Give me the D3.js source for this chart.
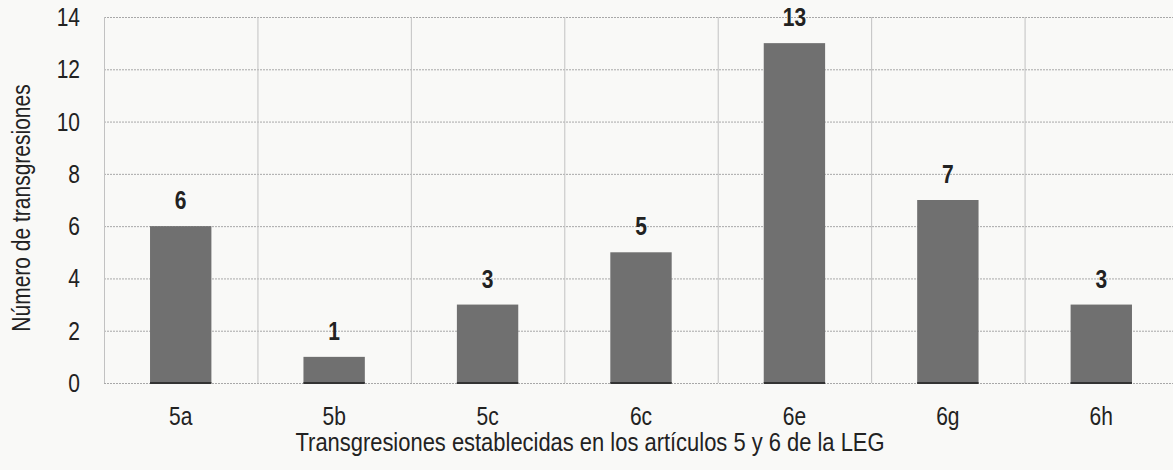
<!DOCTYPE html>
<html>
<head>
<meta charset="utf-8">
<script src="https://cdnjs.cloudflare.com/ajax/libs/d3/7.8.5/d3.min.js"></script>
<style>
  body { margin: 0; background: #f9f9f7; }
  svg { display: block; font-family: "Liberation Sans", Arial, sans-serif; }
</style>
</head>
<body>
<svg id="chart"></svg>
<script>
var categories = ["5a", "5b", "5c", "6c", "6e", "6g", "6h"];
var values = [6, 1, 3, 5, 13, 7, 3];
var yTicks = [0, 2, 4, 6, 8, 10, 12, 14];

var width = 1173, height = 470;
var margin = { top: 17, right: -5, bottom: 87, left: 104 };
var narrow = 0.84; // the original font is a condensed sans

var svg = d3.select("#chart")
    .attr("width", width)
    .attr("height", height);

svg.append("rect")
    .attr("width", width)
    .attr("height", height)
    .attr("fill", "#f9f9f7");

var x = d3.scaleBand()
    .domain(categories)
    .range([margin.left, width - margin.right])
    .paddingInner(0.6)
    .paddingOuter(0.3);

var cell = d3.scaleBand()
    .domain(categories)
    .range([margin.left, width - margin.right])
    .padding(0);

var y = d3.scaleLinear()
    .domain([0, 14])
    .range([height - margin.bottom, margin.top]);

function place(px, py) {
  return "translate(" + px + "," + py + ") scale(" + narrow + ",1)";
}

// horizontal grid
svg.append("g")
  .selectAll("line")
  .data(yTicks)
  .enter()
  .append("line")
    .attr("x1", margin.left)
    .attr("x2", width)
    .attr("y1", d => y(d) + 0.5)
    .attr("y2", d => y(d) + 0.5)
    .attr("stroke", "#a8a8a8")
    .attr("stroke-dasharray", "2,1");

// vertical grid at category boundaries
svg.append("g")
  .selectAll("line")
  .data(categories)
  .enter()
  .append("line")
    .attr("x1", d => cell(d) + 0.5)
    .attr("x2", d => cell(d) + 0.5)
    .attr("y1", y(14))
    .attr("y2", y(0))
    .attr("stroke", "#c2c2c2");

// y tick labels
svg.append("g")
  .selectAll("text")
  .data(yTicks)
  .enter()
  .append("text")
    .attr("transform", d => place(80, y(d)))
    .attr("dy", "0.36em")
    .attr("text-anchor", "end")
    .attr("font-size", 25)
    .attr("fill", "#222")
    .text(d => d);

// bars
var bars = svg.append("g");
bars.selectAll("rect")
  .data(values)
  .enter()
  .append("rect")
    .attr("x", (d, i) => x(categories[i]))
    .attr("y", d => y(d))
    .attr("width", x.bandwidth())
    .attr("height", d => y(0) - y(d))
    .attr("fill", "#707070");

bars.selectAll("line")
  .data(values)
  .enter()
  .append("line")
    .attr("x1", (d, i) => x(categories[i]))
    .attr("x2", (d, i) => x(categories[i]) + x.bandwidth())
    .attr("y1", y(0))
    .attr("y2", y(0))
    .attr("stroke", "#333")
    .attr("stroke-width", 2);

// value labels
svg.append("g")
  .selectAll("text")
  .data(values)
  .enter()
  .append("text")
    .attr("transform", (d, i) => place(x(categories[i]) + x.bandwidth() / 2, y(d) - 17))
    .attr("text-anchor", "middle")
    .attr("font-size", 25)
    .attr("font-weight", "bold")
    .attr("fill", "#222")
    .text(d => d);

// x tick labels
svg.append("g")
  .selectAll("text")
  .data(categories)
  .enter()
  .append("text")
    .attr("transform", d => place(x(d) + x.bandwidth() / 2, 425))
    .attr("text-anchor", "middle")
    .attr("font-size", 25)
    .attr("fill", "#222")
    .text(d => d);

// axis titles
svg.append("text")
    .attr("x", 590)
    .attr("y", 451)
    .attr("text-anchor", "middle")
    .attr("font-size", 25)
    .attr("textLength", 589)
    .attr("lengthAdjust", "spacingAndGlyphs")
    .attr("fill", "#222")
    .text("Transgresiones establecidas en los artículos 5 y 6 de la LEG");

svg.append("text")
    .attr("transform", "translate(30,208) rotate(-90) scale(" + narrow + ",1)")
    .attr("text-anchor", "middle")
    .attr("font-size", 25)
    .attr("fill", "#222")
    .text("Número de transgresiones");
</script>
</body>
</html>
